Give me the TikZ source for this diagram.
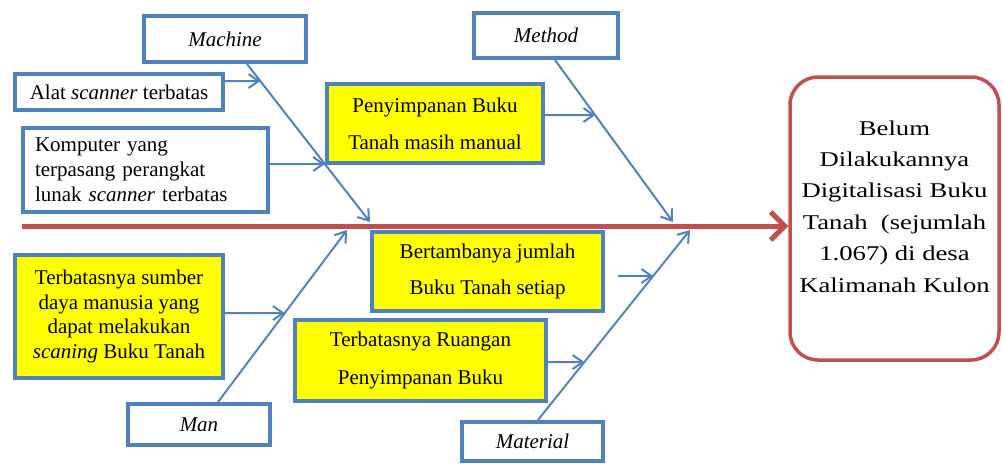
\documentclass[tikz,border=0pt]{standalone}
\usepackage{fontspec}
\setmainfont{Liberation Serif}
\newfontfamily\widefont[FakeStretch=1.27]{Liberation Serif}
\usetikzlibrary{arrows.meta,calc}
\definecolor{boxblue}{HTML}{4F81BD}
\definecolor{spinered}{HTML}{C0504D}
\definecolor{causeyellow}{HTML}{FFFF00}
\begin{document}
\begin{tikzpicture}[x=1pt,y=-1pt,
  box/.style={draw=boxblue, line width=4pt, fill=white, inner sep=0pt, align=center,
    font=\fontsize{21}{25}\selectfont},
  catbox/.style={box, font=\itshape\fontsize{21}{25}\selectfont},
  cause/.style={box, fill=causeyellow},
  bone/.style={draw=boxblue, line width=2pt,
    -{Straight Barb[length=10pt,width=14pt,line width=2pt]}},
  spine/.style={draw=spinered, line width=5pt,
    -{Straight Barb[length=14pt,width=28pt,line width=5pt]}}]
\useasboundingbox (0,0) rectangle (1003,463);

% category boxes
\node[catbox, minimum width=162pt, minimum height=46pt] (machine) at (225,39) {Machine};
\node[catbox, minimum width=144pt, minimum height=45pt] (method) at (546,35.5) {Method};
\node[catbox, minimum width=142pt, minimum height=41pt] (man) at (199,424.5) {Man};
\node[catbox, minimum width=141pt, minimum height=39pt] (material) at (532.5,441.5) {Material};

% cause boxes
\node[box, minimum width=208pt, minimum height=36pt] (alat) at (119,92) {Alat \emph{scanner} terbatas};
\node[box, minimum width=245pt, minimum height=84pt, align=left, text width=221pt] (komp) at (145.5,170)
  {Komputer yang\\terpasang perangkat\\lunak \emph{scanner} terbatas};
\node[cause, minimum width=208pt, minimum height=123pt, font=\fontsize{21}{24.5}\selectfont] (sdm) at (119,316.5)
  {Terbatasnya sumber\\daya manusia yang\\dapat melakukan\\\emph{scaning} Buku Tanah};
\node[cause, minimum width=216pt, minimum height=79pt, font=\fontsize{21}{37}\selectfont] (peny) at (435,123.5)
  {Penyimpanan Buku\\Tanah masih manual};
\node[cause, minimum width=231pt, minimum height=79pt, font=\fontsize{21}{36}\selectfont] (bert) at (487.5,271.5)
  {Bertambanya jumlah\\Buku Tanah setiap};
\node[cause, minimum width=251pt, minimum height=81pt, font=\fontsize{21}{38}\selectfont] (ruang) at (420.5,360.5)
  {Terbatasnya Ruangan\\Penyimpanan Buku};

% effect box
\node[draw=spinered, line width=3.5pt, rounded corners=28pt, minimum width=209pt, minimum height=283pt,
  inner sep=0pt] (result) at (894.5,218.5) {};
\node[font=\widefont\fontsize{21}{31.4}\selectfont, align=center, inner sep=0pt] (resulttext) at (894.5,206.5)
  {Belum\\Dilakukannya\\Digitalisasi Buku\\Tanah~ (sejumlah\\1.067) di desa\\Kalimanah Kulon};

% spine
\coordinate (spS) at (22,226);
\draw[spine] (spS) -- (spS -| result.west);

% bones
\coordinate (mchS) at ([xshift=22pt]machine.south);
\coordinate (mchE) at (370,222);
\coordinate (manS) at ([xshift=19pt]man.north);
\coordinate (manE) at (347,230);
\coordinate (metS) at ([xshift=9pt]method.south);
\coordinate (metE) at (673,222);
\coordinate (matS) at ([xshift=5.5pt]material.north);
\coordinate (matE) at (690,230);
\draw[bone] (mchS) -- (mchE);
\draw[bone] (manS) -- (manE);
\draw[bone] (metS) -- (metE);
\draw[bone] (matS) -- (matE);

% cause arrows
\coordinate (alatT) at ($(mchS)!0.108!(mchE)$);
\coordinate (kompT) at ($(mchS)!0.633!(mchE)$);
\coordinate (sdmT) at ($(manS)!0.517!(manE)$);
\coordinate (penyT) at ($(metS)!0.34!(metE)$);
\coordinate (bertS) at ([xshift=13pt,yshift=-4.5pt]bert.east);
\coordinate (bertT) at ($(matS)!0.758!(matE)$);
\coordinate (ruangT) at ($(matS)!0.305!(matE)$);
\draw[bone] ([yshift=11pt]alat.east) -- (alatT);
\draw[bone] ([yshift=6pt]komp.east) -- (kompT);
\draw[bone] ([yshift=3.5pt]sdm.east) -- (sdmT);
\draw[bone] ([yshift=8.5pt]peny.east) -- (penyT);
\draw[bone] (bertS) -- (bertT);
\draw[bone] ([yshift=-1.5pt]ruang.east) -- (ruangT);
\end{tikzpicture}
\end{document}
